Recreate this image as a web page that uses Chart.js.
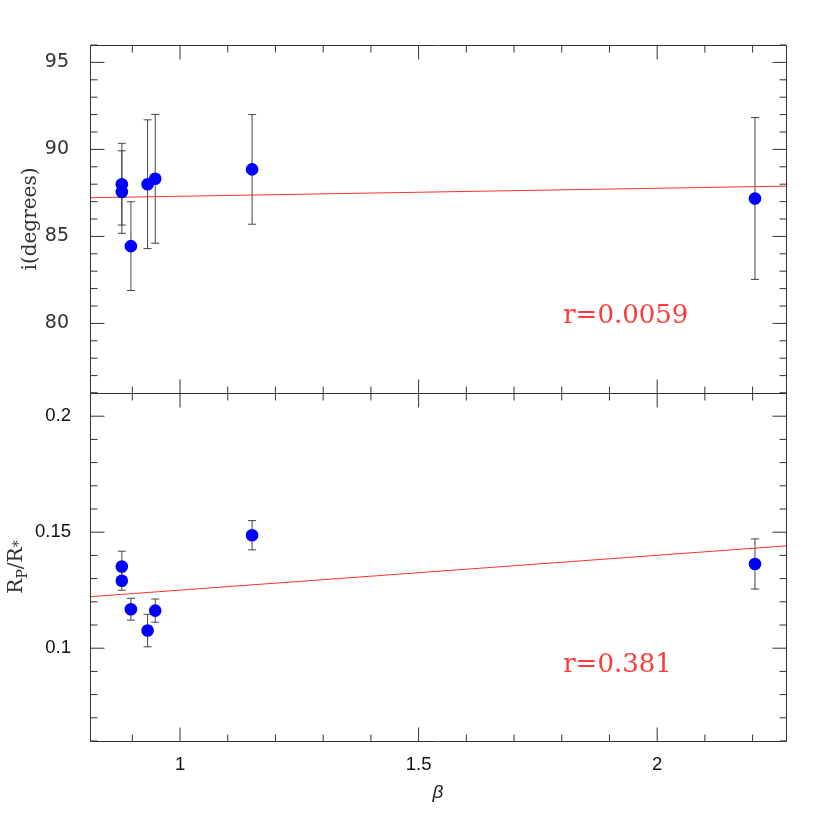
<!DOCTYPE html>
<html>
<head>
<meta charset="utf-8">
<script src="https://cdn.jsdelivr.net/npm/chart.js@4.4.1/dist/chart.umd.min.js"></script>
<style>
html, body { margin: 0; padding: 0; background: #fff; }
#wrap { width: 830px; height: 830px; }
</style>
</head>
<body>
<div id="wrap"><canvas id="mycanvas" width="830" height="830"></canvas></div>
<script>
// values
var beta     = [0.878, 0.878, 0.897, 0.932, 0.948, 1.151, 2.205];
var incl     = [88.0, 87.55, 84.44, 88.0, 88.31, 88.85, 87.18];
var inclErr  = [2.35, 2.37, 2.55, 3.7, 3.7, 3.15, 4.65];
var ratio    = [0.1352, 0.1291, 0.1168, 0.1076, 0.1162, 0.1487, 0.1363];
var ratioErr = [0.0066, 0.0041, 0.0047, 0.0070, 0.0050, 0.0063, 0.0108];
// fitted lines, end points
var fitX = [0.8113, 2.27];
var fitI = [87.22, 87.89];
var fitR = [0.1222, 0.1441];
// tick labels
var xTicks  = [1, 1.5, 2];
var yiTicks = [80, 85, 90, 95];
var yrTicks = [0.1, 0.15, 0.2];
// correlation labels
var rText = ["r=0.0059", "r=0.381"];
var rPos  = [[1.803, 80.0], [1.803, 0.0898]];

function pts(xs, ys) {
  var out = [];
  for (var k = 0; k < xs.length; k++) out.push({x: xs[k], y: ys[k]});
  return out;
}
function fixTicks(list) {
  return function(s) { s.ticks = list.map(function(v) { return {value: v}; }); };
}
function plain(v) { return String(+Number(v).toFixed(3)); }

var frameCol = '#333';

// error bars under the markers
var errPlugin = {
  id: 'errbars',
  beforeDatasetsDraw: function(chart) {
    var ctx = chart.ctx, sx = chart.scales.x;
    var sets = [[chart.scales.yi, incl, inclErr], [chart.scales.yr, ratio, ratioErr]];
    ctx.save();
    ctx.strokeStyle = '#444';
    ctx.lineWidth = 1;
    sets.forEach(function(s) {
      for (var k = 0; k < beta.length; k++) {
        var px = sx.getPixelForValue(beta[k]);
        var y1 = s[0].getPixelForValue(s[1][k] + s[2][k]);
        var y2 = s[0].getPixelForValue(s[1][k] - s[2][k]);
        ctx.beginPath();
        ctx.moveTo(px, y1); ctx.lineTo(px, y2);
        ctx.moveTo(px - 4, y1); ctx.lineTo(px + 4, y1);
        ctx.moveTo(px - 4, y2); ctx.lineTo(px + 4, y2);
        ctx.stroke();
      }
    });
    ctx.restore();
  }
};

// frames, inward ticks, titles and r labels
var framePlugin = {
  id: 'frames',
  afterDraw: function(chart) {
    var ctx = chart.ctx, sx = chart.scales.x, a = chart.chartArea;
    var panels = [
      {s: chart.scales.yi, minor: 1, major: 5, lo: 76, hi: 96},
      {s: chart.scales.yr, minor: 0.01, major: 0.05, lo: 0.06, hi: 0.21}
    ];
    ctx.save();
    ctx.strokeStyle = frameCol;
    ctx.lineWidth = 1;
    panels.forEach(function(p) {
      var top = Math.round(p.s.top) + 0.5, bot = Math.round(p.s.bottom) + 0.5;
      var left = Math.round(a.left) + 0.5, right = Math.round(a.right) + 0.5;
      ctx.beginPath();
      ctx.rect(left, top, right - left, bot - top);
      // x ticks every 0.1
      for (var k = 9; k <= 22; k++) {
        var px = sx.getPixelForValue(k / 10);
        var len = (k % 5 === 0) ? 14 : 7;
        ctx.moveTo(px, top); ctx.lineTo(px, top + len);
        ctx.moveTo(px, bot); ctx.lineTo(px, bot - len);
      }
      // y ticks
      var n0 = Math.ceil(p.lo / p.minor - 1e-6), n1 = Math.floor(p.hi / p.minor + 1e-6);
      var every = Math.round(p.major / p.minor);
      for (var j = n0; j <= n1; j++) {
        var py = p.s.getPixelForValue(j * p.minor);
        var l2 = (j % every === 0) ? 14 : 7;
        ctx.moveTo(left, py); ctx.lineTo(left + l2, py);
        ctx.moveTo(right, py); ctx.lineTo(right - l2, py);
      }
      ctx.stroke();
    });

    // r labels
    ctx.fillStyle = '#ff3a3a';
    ctx.font = '26px "DejaVu Serif"';
    ctx.textBaseline = 'alphabetic';
    ctx.textAlign = 'left';
    ctx.fillText(rText[0], sx.getPixelForValue(rPos[0][0]), chart.scales.yi.getPixelForValue(rPos[0][1]));
    ctx.fillText(rText[1], sx.getPixelForValue(rPos[1][0]), chart.scales.yr.getPixelForValue(rPos[1][1]));

    // x title
    ctx.fillStyle = '#222';
    ctx.font = 'italic 19px "Liberation Sans"';
    ctx.textAlign = 'center';
    ctx.fillText('\u03b2', (a.left + a.right) / 2, 798);

    // y titles, rotated
    var yi = chart.scales.yi, yr = chart.scales.yr;
    ctx.save();
    ctx.translate(36, (yi.top + yi.bottom) / 2);
    ctx.rotate(-Math.PI / 2);
    ctx.font = '20px "DejaVu Serif"';
    ctx.fillStyle = '#333';
    ctx.textAlign = 'center';
    ctx.fillText('i(degrees)', 0, 0);
    ctx.restore();

    ctx.save();
    ctx.translate(22, (yr.top + yr.bottom) / 2);
    ctx.rotate(-Math.PI / 2);
    ctx.fillStyle = '#333';
    ctx.textAlign = 'left';
    var big = '20px "DejaVu Serif"', small = '14px "DejaVu Serif"';
    var parts = [['R', big, 0], ['P', small, 5], ['/', big, 0], ['R', big, 0], ['*', small, 1]];
    var w = 0;
    parts.forEach(function(q) { ctx.font = q[1]; w += ctx.measureText(q[0]).width; });
    var x = -w / 2;
    parts.forEach(function(q) {
      ctx.font = q[1];
      ctx.fillText(q[0], x, q[2]);
      x += ctx.measureText(q[0]).width;
    });
    ctx.restore();

    ctx.restore();
  }
};

var ctx = document.getElementById('mycanvas');
var chart = new Chart(ctx, {
  type: 'scatter',
  data: {
    datasets: [
      { data: pts(beta, incl), yAxisID: 'yi', backgroundColor: '#0000ff', borderWidth: 0, pointRadius: 6.3 },
      { type: 'line', data: pts(fitX, fitI), yAxisID: 'yi', borderColor: '#ff3030', borderWidth: 1, pointRadius: 0, fill: false },
      { data: pts(beta, ratio), yAxisID: 'yr', backgroundColor: '#0000ff', borderWidth: 0, pointRadius: 6.3 },
      { type: 'line', data: pts(fitX, fitR), yAxisID: 'yr', borderColor: '#ff3030', borderWidth: 1, pointRadius: 0, fill: false }
    ]
  },
  options: {
    responsive: false,
    animation: false,
    layout: { padding: { top: 45, right: 44, left: 0, bottom: 0 } },
    plugins: { legend: { display: false }, tooltip: { enabled: false } },
    scales: {
      x: {
        type: 'linear', min: 0.8113, max: 2.27,
        grid: { display: false }, border: { display: false },
        afterBuildTicks: fixTicks(xTicks),
        ticks: { padding: 5, color: '#111', callback: plain,
                 font: { family: 'Liberation Sans', size: 18.5 } },
        afterFit: function(s) { s.height = 89; }
      },
      // first axis of the stack goes to the bottom
      yr: {
        type: 'linear', position: 'left', stack: 'panels', stackWeight: 1,
        min: 0.06, max: 0.21,
        grid: { display: false }, border: { display: false },
        afterBuildTicks: fixTicks(yrTicks),
        ticks: { padding: 11, color: '#111', callback: plain,
                 font: { family: 'Liberation Sans', size: 18.5 } },
        afterFit: function(s) { s.width = 90; }
      },
      yi: {
        type: 'linear', position: 'left', stack: 'panels', stackWeight: 1,
        min: 76, max: 96,
        grid: { display: false }, border: { display: false },
        afterBuildTicks: fixTicks(yiTicks),
        ticks: { padding: 13, color: '#333', callback: plain,
                 font: { family: 'DejaVu Sans', size: 19 } },
        afterFit: function(s) { s.width = 90; }
      }
    }
  },
  plugins: [errPlugin, framePlugin]
});
</script>
</body>
</html>
